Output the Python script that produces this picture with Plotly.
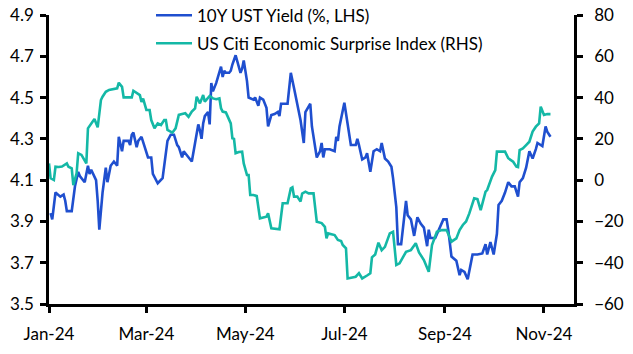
import plotly.graph_objects as go

ust_dates = ["2024-01-02","2024-01-03","2024-01-05","2024-01-08","2024-01-10","2024-01-11","2024-01-12","2024-01-15",
"2024-01-17","2024-01-19","2024-01-20","2024-01-23","2024-01-25","2024-01-26","2024-01-27","2024-01-30","2024-01-31",
"2024-02-01","2024-02-03","2024-02-04","2024-02-05","2024-02-06","2024-02-08","2024-02-10","2024-02-12","2024-02-13",
"2024-02-15","2024-02-16","2024-02-19","2024-02-20","2024-02-21","2024-02-22","2024-02-24","2024-02-25","2024-02-27",
"2024-02-29","2024-03-02","2024-03-04","2024-03-05","2024-03-08","2024-03-11","2024-03-14","2024-03-16","2024-03-18",
"2024-03-20","2024-03-21","2024-03-23","2024-03-24","2024-03-27","2024-03-29","2024-03-31","2024-04-02","2024-04-03",
"2024-04-04","2024-04-05","2024-04-06","2024-04-08","2024-04-09","2024-04-10","2024-04-11","2024-04-13","2024-04-14",
"2024-04-16","2024-04-17","2024-04-18","2024-04-19","2024-04-21","2024-04-22","2024-04-23","2024-04-25","2024-04-28",
"2024-04-29","2024-04-30","2024-05-02","2024-05-03","2024-05-06","2024-05-07","2024-05-09","2024-05-10","2024-05-12",
"2024-05-14","2024-05-15","2024-05-17","2024-05-19","2024-05-21","2024-05-22","2024-05-23","2024-05-27","2024-05-29",
"2024-05-31","2024-06-02","2024-06-04","2024-06-06","2024-06-07","2024-06-10","2024-06-11","2024-06-14","2024-06-16",
"2024-06-17","2024-06-18","2024-06-19","2024-06-22","2024-06-25","2024-06-26","2024-06-27","2024-06-28","2024-07-01",
"2024-07-03","2024-07-04","2024-07-05","2024-07-08","2024-07-09","2024-07-10","2024-07-12","2024-07-14","2024-07-15",
"2024-07-17","2024-07-19","2024-07-21","2024-07-23","2024-07-24","2024-07-26","2024-07-28","2024-07-30","2024-07-31",
"2024-08-02","2024-08-03","2024-08-05","2024-08-07","2024-08-08","2024-08-09","2024-08-11","2024-08-12","2024-08-13",
"2024-08-15","2024-08-17","2024-08-19","2024-08-20","2024-08-21","2024-08-22","2024-08-23","2024-08-26","2024-08-29",
"2024-08-31","2024-09-02","2024-09-03","2024-09-05","2024-09-08","2024-09-10","2024-09-11","2024-09-13","2024-09-15",
"2024-09-18","2024-09-21","2024-09-24","2024-09-26","2024-09-27","2024-09-29","2024-10-01","2024-10-03","2024-10-04",
"2024-10-06","2024-10-08","2024-10-10","2024-10-12","2024-10-14","2024-10-16","2024-10-17","2024-10-19","2024-10-21",
"2024-10-23","2024-10-25","2024-10-27","2024-10-28","2024-10-31","2024-11-02","2024-11-03","2024-11-05"]
ust_yield = [3.94,3.91,4.04,4.02,4.03,4.00,3.95,3.95,
4.07,4.14,4.12,4.09,4.17,4.13,4.15,4.10,4.00,
3.86,4.04,4.10,4.16,4.09,4.17,4.19,4.17,4.31,
4.24,4.29,4.29,4.27,4.32,4.33,4.26,4.29,4.31,
4.26,4.21,4.21,4.13,4.085,4.11,4.29,4.32,4.32,
4.27,4.26,4.21,4.24,4.21,4.19,4.28,4.37,4.34,
4.30,4.375,4.41,4.43,4.37,4.57,4.53,4.57,4.60,
4.65,4.60,4.63,4.62,4.62,4.63,4.66,4.705,4.62,
4.64,4.68,4.58,4.50,4.49,4.50,4.46,4.50,4.49,
4.45,4.36,4.415,4.42,4.43,4.41,4.47,4.47,4.62,
4.545,4.47,4.39,4.28,4.43,4.47,4.36,4.21,4.24,
4.28,4.21,4.25,4.25,4.24,4.31,4.29,4.36,4.475,
4.38,4.33,4.27,4.27,4.30,4.27,4.20,4.21,4.23,
4.14,4.24,4.25,4.24,4.28,4.205,4.19,4.165,4.11,
3.97,3.79,3.79,3.93,4.00,3.93,3.91,3.87,3.83,
3.92,3.89,3.87,3.82,3.78,3.86,3.82,3.82,3.87,
3.91,3.91,3.86,3.73,3.71,3.64,3.665,3.655,3.62,
3.74,3.74,3.745,3.79,3.74,3.80,3.74,3.84,3.98,
4.00,4.04,4.09,4.07,4.07,4.02,4.09,4.11,4.16,
4.24,4.205,4.25,4.28,4.265,4.36,4.335,4.31]

citi_dates = ["2024-01-01","2024-01-02","2024-01-04","2024-01-05","2024-01-07","2024-01-09","2024-01-12","2024-01-13",
"2024-01-15","2024-01-16","2024-01-18","2024-01-19","2024-01-21","2024-01-22","2024-01-24","2024-01-25","2024-01-27",
"2024-01-29","2024-01-31","2024-02-02","2024-02-03","2024-02-05","2024-02-07","2024-02-10","2024-02-12","2024-02-13",
"2024-02-15","2024-02-16","2024-02-21","2024-02-22","2024-02-24","2024-02-26","2024-02-27","2024-02-28","2024-03-01",
"2024-03-03","2024-03-04","2024-03-06","2024-03-08","2024-03-10","2024-03-12","2024-03-13","2024-03-14","2024-03-17",
"2024-03-19","2024-03-21","2024-03-23","2024-03-25","2024-03-27","2024-03-29","2024-03-31","2024-04-01","2024-04-03",
"2024-04-05","2024-04-06","2024-04-09","2024-04-11","2024-04-13","2024-04-15","2024-04-16","2024-04-17","2024-04-19",
"2024-04-22","2024-04-23","2024-04-24","2024-04-25","2024-04-27","2024-04-29","2024-04-30","2024-05-02","2024-05-03",
"2024-05-04","2024-05-06","2024-05-08","2024-05-10","2024-05-12","2024-05-14","2024-05-15","2024-05-17","2024-05-22",
"2024-05-24","2024-05-27","2024-05-29","2024-05-30","2024-05-31","2024-06-02","2024-06-04","2024-06-05","2024-06-07",
"2024-06-09","2024-06-12","2024-06-14","2024-06-17","2024-06-19","2024-06-20","2024-06-21","2024-06-25","2024-06-27",
"2024-06-29","2024-06-30","2024-07-02","2024-07-03","2024-07-06","2024-07-08","2024-07-10","2024-07-11","2024-07-12",
"2024-07-15","2024-07-17","2024-07-18","2024-07-20","2024-07-22","2024-07-24","2024-07-26","2024-07-29","2024-07-31",
"2024-08-02","2024-08-04","2024-08-08","2024-08-11","2024-08-14","2024-08-16","2024-08-19","2024-08-22","2024-08-24",
"2024-08-27","2024-08-30","2024-09-02","2024-09-05","2024-09-08","2024-09-10","2024-09-12","2024-09-14","2024-09-16",
"2024-09-19","2024-09-21","2024-09-23","2024-09-26","2024-09-27","2024-09-30","2024-10-02","2024-10-03","2024-10-08",
"2024-10-10","2024-10-13","2024-10-15","2024-10-16","2024-10-17","2024-10-19","2024-10-21","2024-10-23","2024-10-25",
"2024-10-27","2024-10-29","2024-10-30","2024-11-01","2024-11-03","2024-11-05"]
citi_index = [8.1,0.9,0.05,6.5,6.4,6.6,8.1,6.5,
5.7,-2.4,3.3,13.0,12.2,10.6,8.1,25.1,27.5,
29.6,25.6,38.8,40.4,42.8,43.7,44.0,44.5,47.2,
45.2,40.1,40.1,43.3,42.3,41.2,37.9,39.5,34.0,
34.0,29.1,25.1,27.5,26.7,29.1,29.1,24.3,23.0,
25.1,31.6,32.0,32.4,30.7,33.2,34.8,40.4,37.2,
41.2,38.0,40.8,39.6,39.2,39.6,34.8,33.2,32.8,
27.5,20.3,20.0,13.0,13.6,13.8,8.1,2.5,2.5,
-7.2,-7.2,-7.7,-18.5,-18.0,-17.7,-16.1,-23.3,-23.8,
-11.2,-11.2,-4.0,-3.5,-8.0,-8.0,-10.4,-6.5,-5.6,
-6.4,-6.4,-20.1,-20.8,-22.6,-28.2,-25.8,-26.6,-29.0,
-29.5,-31.4,-33.0,-47.6,-47.2,-46.8,-45.1,-46.5,-47.6,
-46.2,-45.1,-37.4,-36.0,-30.3,-33.9,-32.3,-25.8,-25.0,
-41.1,-40.3,-34.7,-33.9,-30.6,-35.0,-38.7,-44.4,-31.4,
-25.0,-24.2,-24.2,-29.8,-28.2,-24.2,-21.7,-20.0,-16.1,
-8.8,-9.2,-14.5,-5.6,-4.8,1.7,4.9,13.8,13.8,
10.6,8.9,6.5,6.3,14.6,15.4,17.0,18.6,23.5,
25.9,27.5,35.6,31.6,32.0,32.0]

x_tick_vals = ["2024-01-01","2024-03-01","2024-05-01","2024-07-01","2024-09-01","2024-11-01"]
x_tick_text = ["Jan-24","Mar-24","May-24","Jul-24","Sep-24","Nov-24"]

BLUE = "#1F4FCF"
TEAL = "#14B8A6"
FONT = "Lato"

fig = go.Figure()
fig.add_trace(go.Scatter(x=citi_dates, y=citi_index, mode="lines", name="US Citi Economic Surprise Index (RHS)",
                         line=dict(color=TEAL, width=2.6), yaxis="y2", legendrank=2, legendgroup="b"))
fig.add_trace(go.Scatter(x=ust_dates, y=ust_yield, mode="lines", name="10Y UST Yield (%, LHS)",
                         line=dict(color=BLUE, width=2.6), legendrank=1, legendgroup="a"))

axis_common = dict(showgrid=False, zeroline=False, showline=True, linecolor="black", linewidth=2.5,
                   ticks="outside", ticklen=6, tickwidth=2.5, tickcolor="black", automargin=False,
                   tickfont=dict(family=FONT, size=17, color="black"))

fig.update_layout(
    width=633, height=354,
    margin=dict(l=49, r=59, t=15, b=50, autoexpand=False),
    plot_bgcolor="white", paper_bgcolor="white",
    font=dict(family=FONT, size=17, color="black"),
    xaxis=dict(range=["2024-01-01", "2024-11-19 12:00"], tickvals=x_tick_vals, ticktext=x_tick_text,
               tickangle=0, ticklabelstandoff=7, **axis_common),
    yaxis=dict(range=[3.5, 4.9], dtick=0.2, tick0=3.5, tickformat=".1f", ticklabelstandoff=3, **axis_common),
    yaxis2=dict(range=[-60, 80], dtick=20, tick0=-60, overlaying="y", side="right", ticklabelstandoff=8,
                **axis_common),
    legend=dict(x=(151 - 49) / 525, y=1.06, xref="paper", yref="paper", xanchor="left", yanchor="top",
                bgcolor="rgba(0,0,0,0)", font=dict(family=FONT, size=17, color="black"),
                tracegroupgap=3, itemwidth=36),
    showlegend=True,
)
fig.write_html("out.html")
